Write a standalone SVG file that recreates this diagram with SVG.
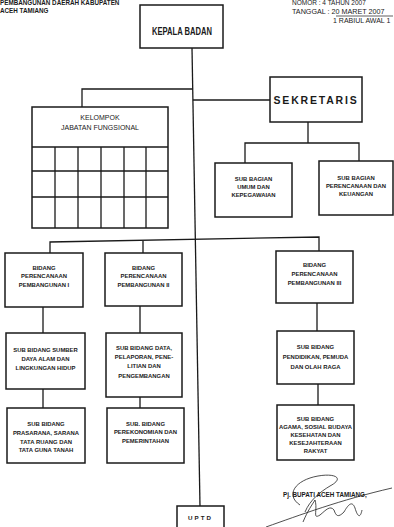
<svg xmlns="http://www.w3.org/2000/svg" width="394" height="527" viewBox="0 0 394 527">
<style>
.bx{fill:#fff;stroke:#1a1a1a;stroke-width:1.5}
.ln{fill:none;stroke:#1a1a1a;stroke-width:1.3}
text{font-family:"Liberation Sans",Arial,sans-serif;fill:#1a1a1a}
.t{font-size:5.9px;text-anchor:middle;font-weight:bold}
.h{font-size:6.3px;font-weight:bold}
.sig{fill:none;stroke:#222;stroke-width:0.8}
</style>
<rect width="394" height="527" fill="#fff"/>
<g id="header">
<text class="h" x="0" y="5">PEMBANGUNAN DAERAH KABUPATEN</text>
<text class="h" x="0" y="13">ACEH TAMIANG</text>
<text x="292" y="5" style="font-size:6.5px">NOMOR : 4 TAHUN 2007</text>
<text x="292" y="14" style="font-size:7.2px">TANGGAL : 20 MARET  2007</text>
<line x1="336" y1="16" x2="393" y2="16" stroke="#1a1a1a" stroke-width="0.7"/>
<text x="333" y="23" style="font-size:7px">1 RABIUL AWAL 1</text>
</g>
<g id="connectors">
<path class="ln" d="M192,48 L200,506"/>
<path class="ln" d="M192.7,89 H82 V107"/>
<path class="ln" d="M192.9,100 H270"/>
<path class="ln" d="M308,122 V143 M245,163 V143 H359 V161"/>
<path class="ln" d="M50,253 V242 L319,237 V251"/>
<path class="ln" d="M143,241 V253"/>
<path class="ln" d="M43,307 V333 M43,389 V408"/>
<path class="ln" d="M140,306 V333 M140,397 V408"/>
<path class="ln" d="M317,303 V331 M318,384 V405"/>
</g>
<g id="kepala-badan">
<rect class="bx" x="140" y="5" width="83" height="43"/>
<text x="182" y="35" style="font-size:10.5px;font-weight:bold;text-anchor:middle" textLength="60" lengthAdjust="spacingAndGlyphs">KEPALA BADAN</text>
</g>
<g id="kelompok-jabatan-fungsional">
<rect class="bx" x="32" y="107" width="136" height="121" stroke-width="2"/>
<text x="100" y="120" style="font-size:7px;text-anchor:middle">KELOMPOK</text>
<text x="100" y="130" style="font-size:7px;text-anchor:middle">JABATAN FUNGSIONAL</text>
<path class="ln" d="M32,147 H168 M32,171 H168 M32,197 H168 M55,147 V228 M78,147 V228 M101,147 V228 M124,147 V228 M146,147 V228"/>
</g>
<g id="sekretaris">
<rect class="bx" x="270" y="77" width="92" height="45"/>
<text x="316" y="104" style="font-size:10.5px;font-weight:bold;text-anchor:middle;letter-spacing:1.8px">SEKRETARIS</text>
</g>
<g id="sub-bagian-umum">
<rect class="bx" x="215" y="163" width="77" height="54"/>
<text class="t" x="253.5" y="181">SUB BAGIAN</text>
<text class="t" x="253.5" y="189">UMUM DAN</text>
<text class="t" x="253.5" y="197">KEPEGAWAIAN</text>
</g>
<g id="sub-bagian-perencanaan">
<rect class="bx" x="319" y="161" width="74" height="54"/>
<text class="t" x="356" y="180">SUB BAGIAN</text>
<text class="t" x="356" y="188">PERENCANAAN DAN</text>
<text class="t" x="356" y="196">KEUANGAN</text>
</g>
<g id="bidang-1">
<rect class="bx" x="5" y="253" width="78" height="54"/>
<text class="t" x="44" y="270">BIDANG</text>
<text class="t" x="44" y="278">PERENCANAAN</text>
<text class="t" x="44" y="287">PEMBANGUNAN I</text>
</g>
<g id="bidang-2">
<rect class="bx" x="105" y="253" width="77" height="53"/>
<text class="t" x="143.5" y="270">BIDANG</text>
<text class="t" x="143.5" y="278">PERENCANAAN</text>
<text class="t" x="143.5" y="287">PEMBANGUNAN II</text>
</g>
<g id="bidang-3">
<rect class="bx" x="276" y="251" width="77" height="52"/>
<text class="t" x="314.5" y="267">BIDANG</text>
<text class="t" x="314.5" y="276">PERENCANAAN</text>
<text class="t" x="314.5" y="285">PEMBANGUNAN III</text>
</g>
<g id="sub-bidang-sumber-daya-alam">
<rect class="bx" x="6" y="333" width="79" height="56"/>
<text class="t" x="45.5" y="352">SUB BIDANG SUMBER</text>
<text class="t" x="45.5" y="361">DAYA ALAM DAN</text>
<text class="t" x="45.5" y="370">LINGKUNGAN HIDUP</text>
</g>
<g id="sub-bidang-data">
<rect class="bx" x="106" y="333" width="76" height="64"/>
<text class="t" x="144" y="350">SUB BIDANG DATA,</text>
<text class="t" x="144" y="359">PELAPORAN, PENE-</text>
<text class="t" x="144" y="368">LITIAN DAN</text>
<text class="t" x="144" y="378">PENGEMBANGAN</text>
</g>
<g id="sub-bidang-pendidikan">
<rect class="bx" x="277" y="331" width="77" height="53"/>
<text class="t" x="315.5" y="349">SUB BIDANG</text>
<text class="t" x="315.5" y="359">PENDIDIKAN, PEMUDA</text>
<text class="t" x="315.5" y="369">DAN OLAH RAGA</text>
</g>
<g id="sub-bidang-prasarana">
<rect class="bx" x="7" y="408" width="78" height="55"/>
<text class="t" x="46" y="426">SUB BIDANG</text>
<text class="t" x="46" y="435">PRASARANA, SARANA</text>
<text class="t" x="46" y="444">TATA RUANG DAN</text>
<text class="t" x="46" y="452">TATA GUNA TANAH</text>
</g>
<g id="sub-bidang-perekonomian">
<rect class="bx" x="107" y="408" width="77" height="55"/>
<text class="t" x="145.5" y="426">SUB. BIDANG</text>
<text class="t" x="145.5" y="434">PEREKONOMIAN DAN</text>
<text class="t" x="145.5" y="443">PEMERINTAHAN</text>
</g>
<g id="sub-bidang-agama">
<rect class="bx" x="277" y="405" width="77" height="55"/>
<text class="t" x="315.5" y="421">SUB BIDANG</text>
<text class="t" x="315.5" y="429">AGAMA, SOSIAL BUDAYA</text>
<text class="t" x="315.5" y="437">KESEHATAN DAN</text>
<text class="t" x="315.5" y="445">KESEJAHTERAAN</text>
<text class="t" x="315.5" y="453">RAKYAT</text>
</g>
<g id="uptd">
<rect class="bx" x="177" y="506" width="47" height="26"/>
<text x="200.5" y="520" style="font-size:6.2px;font-weight:bold;text-anchor:middle;letter-spacing:2px">UPTD</text>
</g>
<g id="signature">
<text class="h" x="283" y="497">Pj. BUPATI ACEH TAMIANG,</text>
<path class="sig" d="M300,505 C285,495 295,480 318,476 C335,473 345,478 330,486 C320,492 310,500 305,512"/>
<path class="sig" d="M266,527 C300,515 340,500 392,488"/>
<path class="sig" d="M303,522 C308,510 312,505 315,500 C318,510 312,520 320,515 C326,510 330,505 334,510 C336,516 338,518 344,512 C348,505 352,500 355,508 C357,515 360,520 362,510"/>
</g>
</svg>
